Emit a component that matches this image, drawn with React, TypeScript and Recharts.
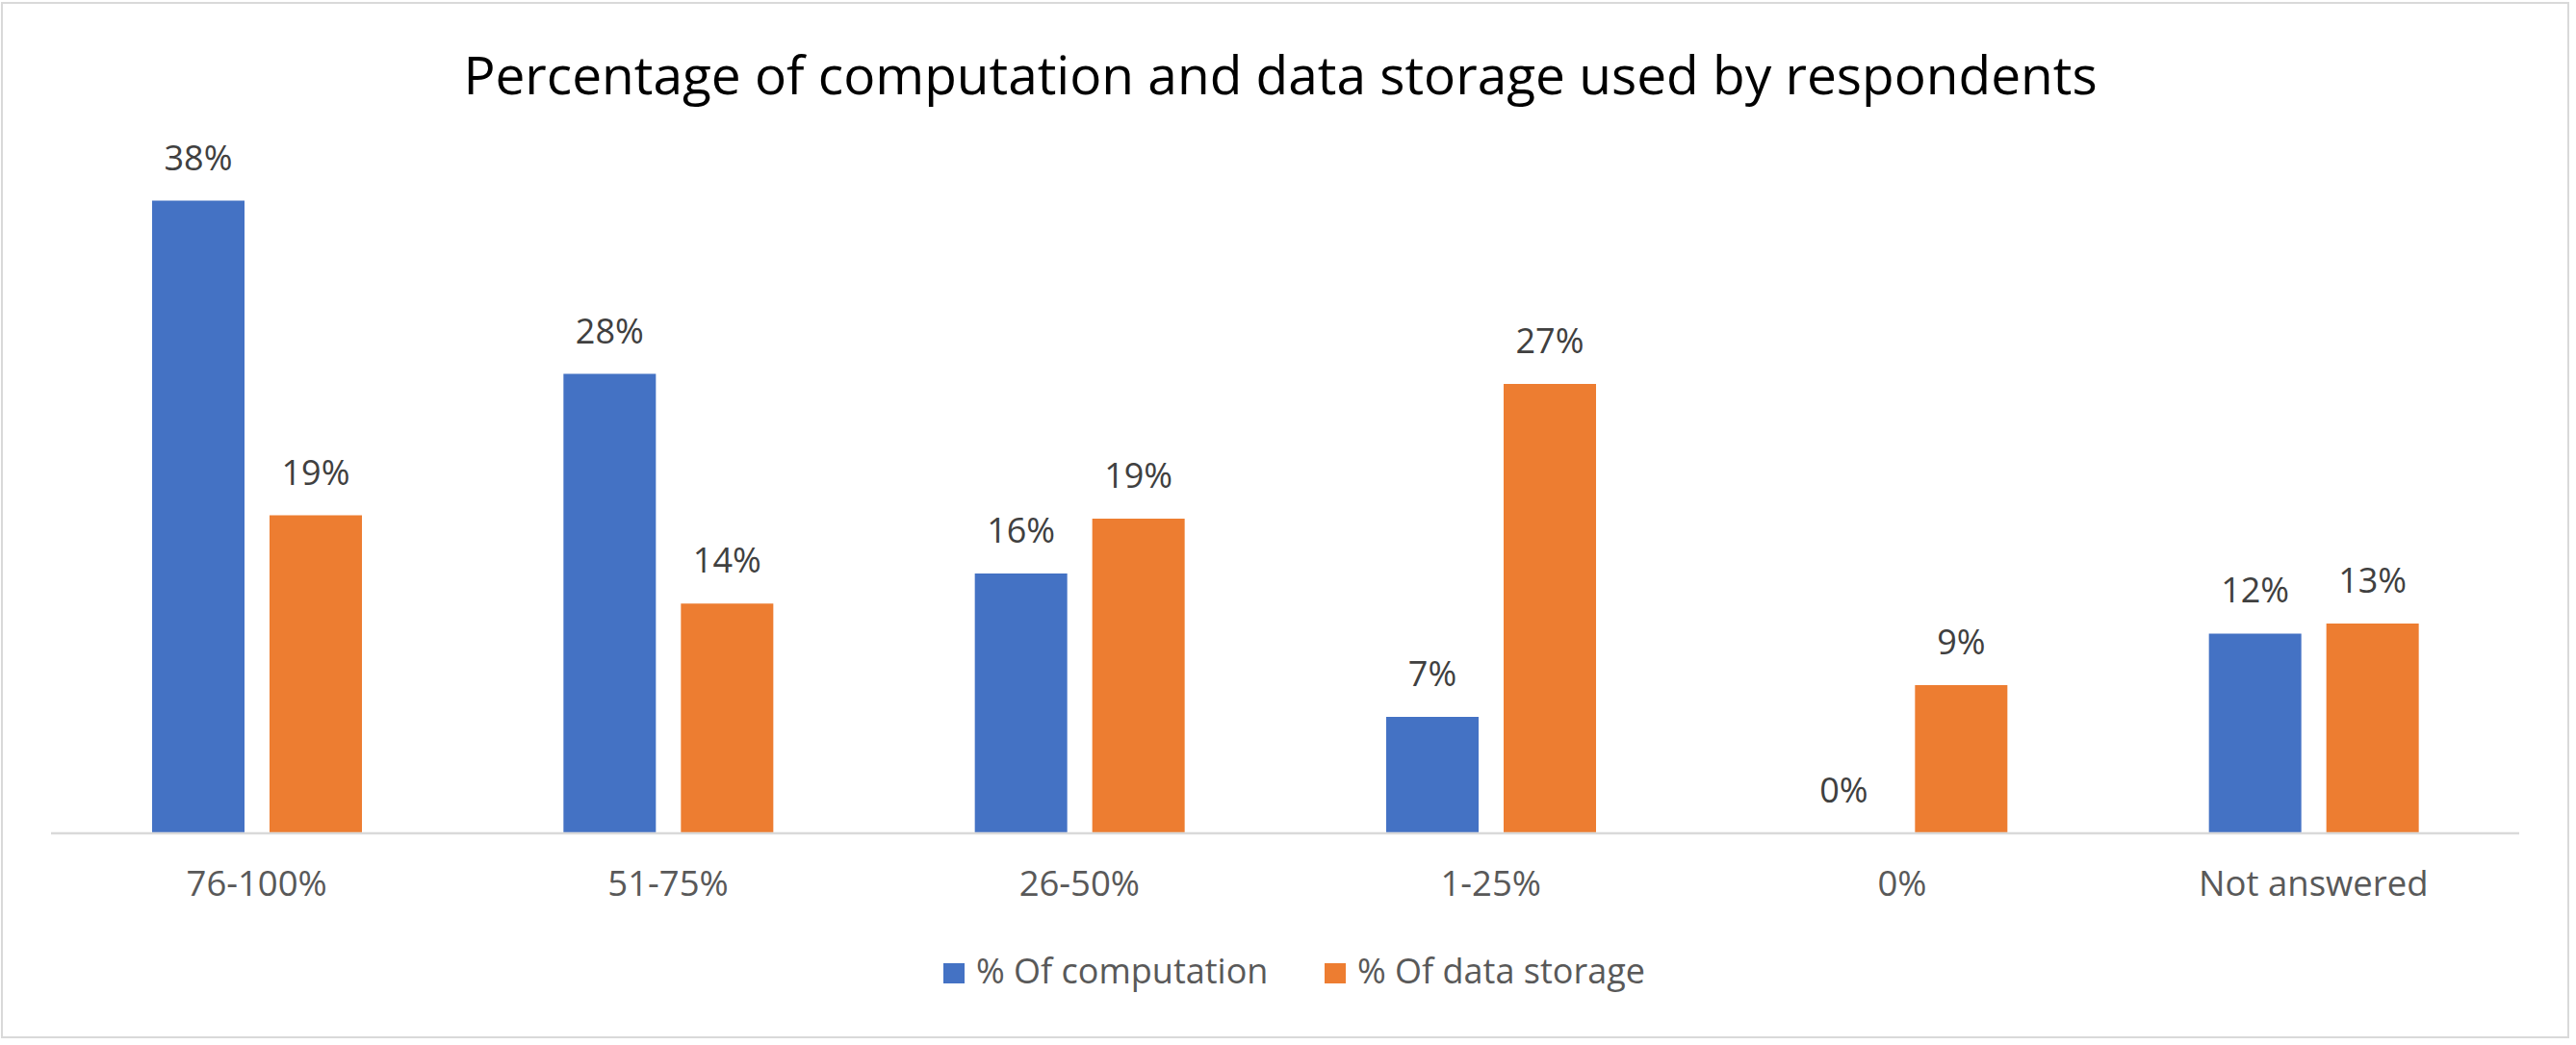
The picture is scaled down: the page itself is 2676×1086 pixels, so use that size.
import { BarChart, Bar, XAxis, YAxis, LabelList } from "recharts";

const categories = ["76-100%", "51-75%", "26-50%", "1-25%", "0%", "Not answered"];
const computation = [38.0, 27.6, 15.6, 7.0, 0, 12.0];
const storage = [19.1, 13.8, 18.9, 27.0, 8.9, 12.6];
const seriesNames = ["% Of computation", "% Of data storage"];
const seriesColors = ["#4472C4", "#ED7D31"];

const data = categories.map((name, i) => ({
  name,
  computation: computation[i],
  storage: storage[i],
}));

const FONT = "'Open Sans', sans-serif";
const W = 2676;
const H = 1086;

const pct = (v: unknown) => `${Math.round(Number(v))}%`;
// zero bars still need their "0%" label, so give them a hairline height
const minSize = (v: unknown) => (Number(v) === 0 ? 0.01 : 0);

export default function App() {
  return (
    <div style={{ position: "absolute", left: 0, top: 0, width: W, height: H, background: "#fff", fontFamily: FONT }}>
      <div
        style={{
          position: "absolute",
          left: 1,
          top: 2,
          width: 2664,
          height: 1073,
          border: "2px solid #d9d9d9",
        }}
      />
      <div style={{ position: "absolute", left: 0, top: 0 }}>
        <BarChart
          width={W}
          height={H}
          data={data}
          margin={{ top: 174, right: 59, left: 53, bottom: 160 }}
          barGap={26}
          barSize={96}
        >
          <XAxis
            dataKey="name"
            height={60}
            axisLine={{ stroke: "#d9d9d9", strokeWidth: 2.5 }}
            tickLine={false}
            tickSize={0}
            tickMargin={39}
            tick={{ fontSize: 36.5, fill: "#595959", fontFamily: FONT }}
            interval={0}
          />
          <YAxis hide domain={[0, 40]} />
          <Bar dataKey="computation" fill={seriesColors[0]} minPointSize={minSize} isAnimationActive={false}>
            <LabelList dataKey="computation" position="top" offset={32} formatter={pct} style={{ fontSize: 36, fill: "#404040", fontFamily: FONT }} />
          </Bar>
          <Bar dataKey="storage" fill={seriesColors[1]} minPointSize={minSize} isAnimationActive={false}>
            <LabelList dataKey="storage" position="top" offset={32} formatter={pct} style={{ fontSize: 36, fill: "#404040", fontFamily: FONT }} />
          </Bar>
        </BarChart>
      </div>
      <svg width={W} height={H} style={{ position: "absolute", left: 0, top: 0, pointerEvents: "none" }}>
        <text x={1330} y={98} textAnchor="middle" fontSize={55} fill="#000" fontFamily={FONT}>
          Percentage of computation and data storage used by respondents
        </text>
        <rect x={980} y={1001} width={22} height={21} fill={seriesColors[0]} />
        <text x={1014} y={1022} fontSize={36} fill="#595959" fontFamily={FONT}>
          {seriesNames[0]}
        </text>
        <rect x={1376} y={1001} width={22} height={21} fill={seriesColors[1]} />
        <text x={1410} y={1022} fontSize={36} fill="#595959" fontFamily={FONT}>
          {seriesNames[1]}
        </text>
      </svg>
    </div>
  );
}
